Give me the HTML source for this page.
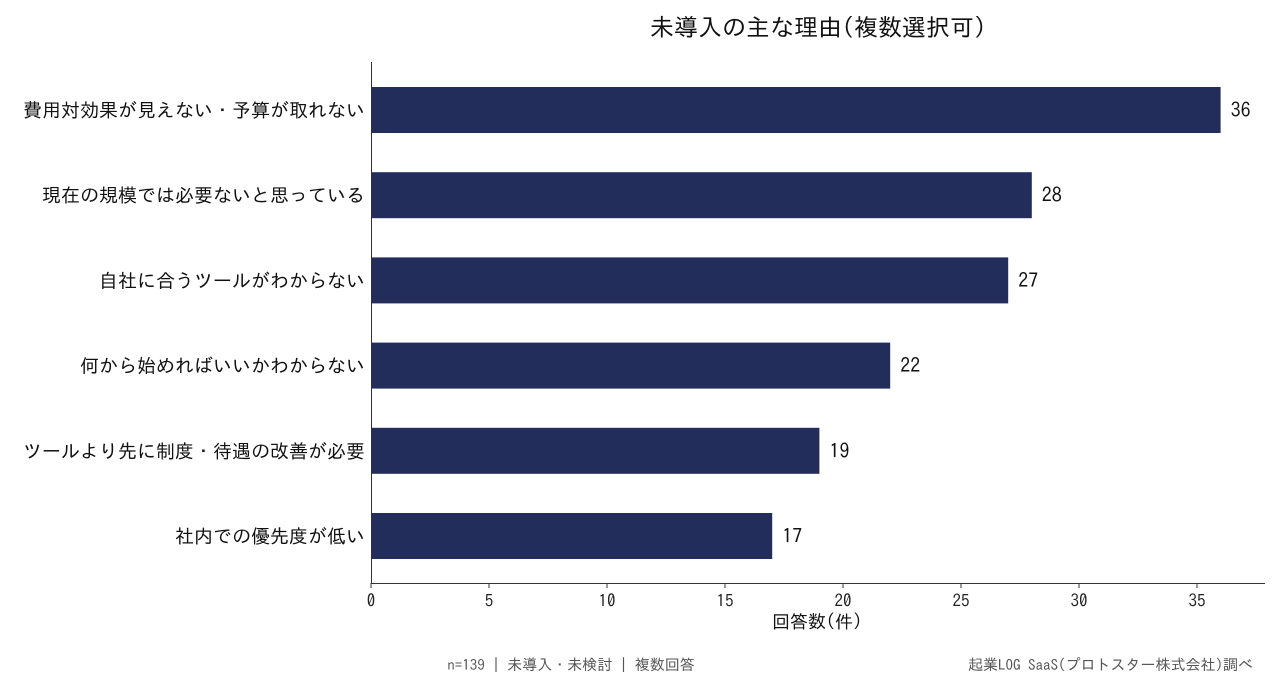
<!DOCTYPE html>
<html><head><meta charset="utf-8"><style>
body{margin:0;background:#fff;width:1280px;height:688px;overflow:hidden;font-family:"IPAGothic","Noto Sans CJK JP",sans-serif}
svg text{font-family:"IPAGothic","Noto Sans CJK JP",sans-serif}
</style></head><body>
<svg id="c" width="1280" height="688">
<text x="818" y="36" font-size="24" text-anchor="middle" fill="#111">未導入の主な理由(複数選択可)</text>
<g id="bars"></g>
<g id="ticks"></g>
<line x1="371.5" y1="62" x2="371.5" y2="583" stroke="#333"/>
<line x1="371" y1="583.5" x2="1265" y2="583.5" stroke="#333"/>
<text x="817" y="628" font-size="18" text-anchor="middle" fill="#111">回答数(件)</text>
<text x="571" y="670" font-size="15" text-anchor="middle" fill="#555">n=139 | 未導入・未検討 | 複数回答</text>
<text x="1253" y="670" font-size="15" text-anchor="end" fill="#555">起業LOG SaaS(プロトスター株式会社)調べ</text>
</svg>
<script>
const categories=["費用対効果が見えない・予算が取れない","現在の規模では必要ないと思っている","自社に合うツールがわからない","何から始めればいいかわからない","ツールより先に制度・待遇の改善が必要","社内での優先度が低い"];
const values=[36,28,27,22,19,17];
const tickValues=[0,5,10,15,20,25,30,35];
const NS="http://www.w3.org/2000/svg";
const x=v=>371+v*23.6;
const y=i=>110+i*85.2;
const bars=document.getElementById('bars'),ticks=document.getElementById('ticks');
function mk(tag,a,p){const e=document.createElementNS(NS,tag);for(const k in a)e.setAttribute(k,a[k]);p.appendChild(e);return e;}
categories.forEach((c,i)=>{
 const r=mk('rect',{x:x(0),y:y(i)-23,width:x(values[i])-x(0),height:46,fill:'#222d5c'},bars);
 
 
 const v=mk('text',{x:x(values[i])+10,y:y(i)+7,'font-size':20,fill:'#111'},bars);v.textContent=values[i];
 
 
 const l=mk('text',{x:365,y:y(i)+7,'font-size':19,'text-anchor':'end',fill:'#111'},bars);l.textContent=c;
 
 
});
tickValues.forEach(t=>{
 mk('line',{x1:x(t),x2:x(t),y1:583,y2:588,stroke:'#333'},ticks);
 const tx=mk('text',{x:x(t),y:607,'font-size':17,'text-anchor':'middle',fill:'#222'},ticks);tx.textContent=t;
 
 
});
</script>
</body></html>
